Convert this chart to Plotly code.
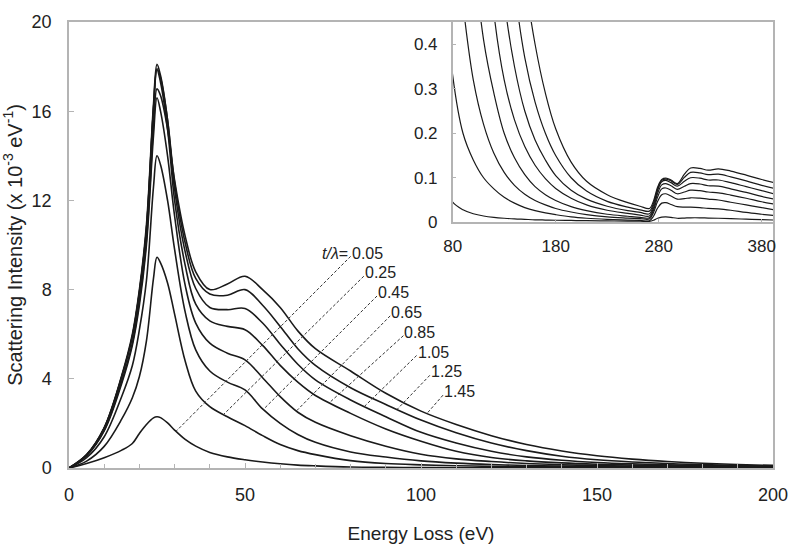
import numpy as np
import plotly.graph_objects as go

# energy loss grid (eV) shared by every curve
energy = [0, 5, 10, 15, 18, 20, 22, 24, 25, 26, 28, 30, 33, 36, 40, 45, 50, 55, 60, 65,
          70, 80, 90, 100, 110, 120, 130, 140, 150, 160, 170, 180, 195, 210, 230, 250, 262, 271, 275, 279,
          283, 287, 292, 298, 305, 311, 320, 328, 338, 350, 365, 380, 392]

thickness = ["0.05", "0.25", "0.45", "0.65", "0.85", "1.05", "1.25", "1.45"]

# scattering intensity (x 1e-3 /eV)
i_005 = [0, 0.2, 0.46, 0.8, 1.1, 1.55, 1.95, 2.25, 2.3, 2.26, 2.02, 1.7, 1.28, 0.98, 0.7, 0.5, 0.37, 0.27, 0.19, 0.13,
         0.095, 0.045, 0.028, 0.019, 0.014, 0.011, 0.009, 0.0075, 0.0065, 0.0055, 0.005, 0.0045, 0.004, 0.0035, 0.003, 0.0025, 0.0022, 0.002, 0.0045, 0.009,
         0.0115, 0.012, 0.011, 0.009, 0.0095, 0.01, 0.01, 0.0095, 0.009, 0.008, 0.007, 0.006, 0.005]
i_025 = [0, 0.31, 0.97, 2.2, 3.15, 4.1, 5.7, 8.5, 9.45, 9.2, 8.3, 6.9, 4.8, 3.45, 2.75, 2.3, 1.9, 1.45, 1.05, 0.78,
         0.6, 0.33, 0.2, 0.14, 0.1, 0.075, 0.056, 0.043, 0.033, 0.026, 0.021, 0.017, 0.012, 0.009, 0.0065, 0.005, 0.004, 0.0035, 0.0135, 0.032,
         0.043, 0.044, 0.04, 0.035, 0.034, 0.034, 0.033, 0.031, 0.03, 0.027, 0.022, 0.018, 0.015]
i_045 = [0, 0.46, 1.4, 3.22, 4.6, 6.2, 8.4, 12.6, 14.0, 13.6, 12.0, 9.8, 7.0, 5.3, 4.35, 3.85, 3.5, 2.65, 2.0, 1.5,
         1.15, 0.72, 0.49, 0.32, 0.22, 0.155, 0.112, 0.083, 0.063, 0.049, 0.039, 0.031, 0.023, 0.017, 0.012, 0.0095, 0.0082, 0.0075, 0.022, 0.047,
         0.062, 0.064, 0.059, 0.052, 0.053, 0.055, 0.054, 0.052, 0.05, 0.045, 0.039, 0.033, 0.028]
i_065 = [0, 0.55, 1.66, 3.8, 5.5, 7.3, 10.0, 14.9, 16.6, 16.0, 14.0, 11.3, 8.2, 6.5, 5.6, 5.15, 4.85, 4.05, 3.2, 2.5,
         2.05, 1.45, 0.98, 0.62, 0.41, 0.29, 0.2, 0.145, 0.107, 0.08, 0.062, 0.049, 0.035, 0.026, 0.018, 0.0135, 0.011, 0.01, 0.027, 0.057,
         0.075, 0.077, 0.072, 0.064, 0.068, 0.072, 0.071, 0.068, 0.066, 0.061, 0.054, 0.046, 0.041]
i_085 = [0, 0.59, 1.79, 4.1, 5.9, 7.85, 10.7, 16.1, 17.85, 17.3, 15.2, 12.0, 9.1, 7.35, 6.6, 6.35, 6.2, 5.5, 4.6, 3.85,
         3.25, 2.45, 1.75, 1.2, 0.75, 0.47, 0.32, 0.23, 0.17, 0.128, 0.098, 0.076, 0.054, 0.039, 0.027, 0.02, 0.016, 0.014, 0.032, 0.065,
         0.084, 0.087, 0.082, 0.074, 0.081, 0.087, 0.086, 0.082, 0.081, 0.075, 0.067, 0.058, 0.052]
i_105 = [0, 0.6, 1.81, 4.16, 6.0, 8.0, 10.9, 16.3, 18.1, 17.6, 15.6, 12.5, 9.7, 8.05, 7.2, 7.1, 7.15, 6.5, 5.55, 4.65,
         3.95, 3.05, 2.3, 1.6, 1.12, 0.75, 0.5, 0.35, 0.25, 0.185, 0.14, 0.105, 0.072, 0.052, 0.036, 0.026, 0.022, 0.019, 0.038, 0.072,
         0.091, 0.094, 0.089, 0.081, 0.092, 0.1, 0.099, 0.095, 0.095, 0.089, 0.08, 0.071, 0.064]
i_125 = [0, 0.59, 1.79, 4.1, 5.9, 7.9, 10.7, 16.1, 17.9, 17.5, 15.6, 12.8, 10.1, 8.5, 7.8, 7.75, 8.0, 7.3, 6.35, 5.35,
         4.6, 3.6, 2.85, 2.15, 1.58, 1.12, 0.78, 0.53, 0.37, 0.27, 0.2, 0.15, 0.1, 0.07, 0.047, 0.034, 0.028, 0.025, 0.043, 0.075,
         0.094, 0.097, 0.093, 0.085, 0.101, 0.112, 0.111, 0.107, 0.108, 0.102, 0.093, 0.083, 0.076]
i_145 = [0, 0.56, 1.7, 3.9, 5.6, 7.5, 10.2, 15.3, 17.0, 16.7, 15.2, 12.9, 10.4, 8.8, 8.0, 8.25, 8.6, 8.0, 7.2, 6.15,
         5.35, 4.35, 3.35, 2.55, 1.95, 1.45, 1.05, 0.76, 0.55, 0.4, 0.29, 0.21, 0.135, 0.092, 0.062, 0.044, 0.036, 0.031, 0.048, 0.079,
         0.096, 0.099, 0.095, 0.087, 0.108, 0.122, 0.121, 0.117, 0.12, 0.115, 0.106, 0.096, 0.089]

curves = [i_005, i_025, i_045, i_065, i_085, i_105, i_125, i_145]

# where each dashed leader touches its curve (eV)
leader_x = [30.4, 43.9, 55.2, 64.6, 74.0, 83.9, 93.2, 101.7]

FONT = "Liberation Sans, Arial, sans-serif"
AXIS_GREY = "#b4b4b4"
LINE = "#1a1a1a"

fig = go.Figure()
for name, y in zip(thickness, curves):
    fig.add_trace(go.Scatter(x=energy, y=y, mode="lines", name=name,
                             line=dict(color=LINE, width=1.6, shape="spline"),
                             xaxis="x", yaxis="y", hoverinfo="skip"))
    fig.add_trace(go.Scatter(x=energy, y=y, mode="lines", name=name,
                             line=dict(color=LINE, width=1.2, shape="spline"),
                             xaxis="x2", yaxis="y2", hoverinfo="skip"))

# labels + dashed leaders
annotations, shapes = [], []
for k, (name, y, lx) in enumerate(zip(thickness, curves, leader_x)):
    tx = 79.7 + 3.75 * k
    ty = 9.64 - 0.889 * k
    annotations.append(dict(x=tx, y=ty, xref="x", yref="y", text=name, showarrow=False,
                            xanchor="left", yanchor="middle", font=dict(size=16, color="#222")))
    if k == 0:
        annotations.append(dict(x=tx, y=ty, xref="x", yref="y", text="<i>t/λ</i>=", showarrow=False,
                                xanchor="right", yanchor="middle", font=dict(size=16, color="#222")))
    ly = float(np.interp(lx, energy, y))
    shapes.append(dict(type="line", xref="x", yref="y", x0=tx + 0.3, y0=ty - 0.15, x1=lx, y1=ly,
                       line=dict(color="#333", width=1, dash="3px,2px")))

axis_common = dict(showline=True, linecolor=AXIS_GREY, linewidth=1.5, mirror=True,
                   showgrid=False, zeroline=False, ticks="inside", tickcolor=AXIS_GREY,
                   tickfont=dict(size=18, color="#222"))

fig.update_layout(
    width=800, height=553,
    margin=dict(l=69, r=21, t=20, b=83),
    plot_bgcolor="white", paper_bgcolor="white",
    font=dict(family=FONT, size=18, color="#222"),
    showlegend=False,
    annotations=annotations, shapes=shapes,
    xaxis=dict(range=[0, 200], dtick=50, ticklen=5,
               minor=dict(dtick=10, ticks="inside", ticklen=4, tickcolor=AXIS_GREY),
               ticklabelstandoff=10,
               title=dict(text="Energy Loss (eV)", standoff=22, font=dict(size=19)), **axis_common),
    yaxis=dict(range=[0, 20], dtick=4, ticklen=5, ticklabelstandoff=12,
               title=dict(text="Scattering Intensity (x 10<sup>-3</sup> eV<sup>-1</sup>)", standoff=4,
                          font=dict(size=20)),
               **axis_common),
    xaxis2=dict(domain=[0.545, 1], anchor="y2", range=[80, 391], tickvals=[80, 180, 280, 380],
                ticklen=4, ticklabelstandoff=8,
                **{**axis_common, "tickfont": dict(size=17, color="#222")}),
    yaxis2=dict(domain=[0.551, 1], anchor="x2", range=[0, 0.45], dtick=0.1, ticklen=4,
                ticklabelstandoff=10,
                **{**axis_common, "tickfont": dict(size=17, color="#222")}),
)

fig.write_html("out.html", config={"displayModeBar": False},
               post_script="document.body.style.margin='0px';")
